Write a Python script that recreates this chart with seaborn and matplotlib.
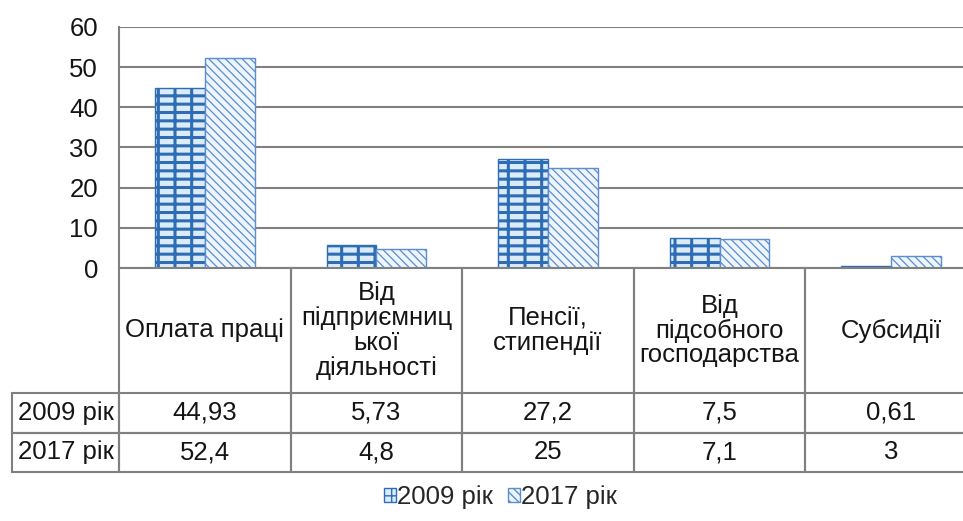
import matplotlib
matplotlib.use("Agg")
import matplotlib.pyplot as plt
from matplotlib.patches import Patch
import seaborn as sns
import pandas as pd

# Data
categories = ["Оплата праці", "Від підприємницької діяльності", "Пенсії, стипендії",
              "Від підсобного господарства", "Субсидії"]
header_labels = ["Оплата праці", "Від\nпідприємниц\nької\nдіяльності", "Пенсії,\nстипендії",
                 "Від\nпідсобного\nгосподарства", "Субсидії"]
years = ["2009 рік", "2017 рік"]
values_2009 = [44.93, 5.73, 27.2, 7.5, 0.61]
values_2017 = [52.4, 4.8, 25, 7.1, 3]
table_2009 = ["44,93", "5,73", "27,2", "7,5", "0,61"]
table_2017 = ["52,4", "4,8", "25", "7,1", "3"]
yticks = [0, 10, 20, 30, 40, 50, 60]

df = pd.DataFrame({
    "cat": categories * 2,
    "year": [years[0]] * 5 + [years[1]] * 5,
    "value": values_2009 + values_2017,
})

sns.set_style("white")
plt.rcParams["font.family"] = ["Liberation Sans", "DejaVu Sans"]
fs = 18.5
plt.rcParams["font.size"] = fs

grid_col = "#808080"
txt_col = "#151515"
face = {"2009 рік": "#dcebfa", "2017 рік": "#eef5fd"}
edge = {"2009 рік": "#2e6db4", "2017 рік": "#5a8ed0"}
hatch = {"2009 рік": "--|", "2017 рік": "\\\\\\\\"}
hatch_lw = {"2009 рік": 2.2, "2017 рік": 0.9}

fig = plt.figure(figsize=(9.63, 5.21), dpi=100)
ax = fig.add_axes([119 / 963, 1 - 268 / 521, 858 / 963, 241 / 521])

sns.barplot(data=df, x="cat", y="value", hue="year", order=categories,
            hue_order=years, width=0.58, ax=ax, legend=False, saturation=1)

for year, cont in zip(years, ax.containers):
    for bar in cont:
        bar.set_facecolor(face[year])
        bar.set_edgecolor(edge[year])
        bar.set_hatch(hatch[year])
        bar.set_linewidth(1.0)
        if hasattr(bar, "set_hatch_linewidth"):
            bar.set_hatch_linewidth(hatch_lw[year])

ax.set_xlim(-0.5, 4.5)
ax.set_ylim(0, 60)
ax.set_yticks(yticks)
ax.set_xticks([])
ax.set_xlabel("")
ax.set_ylabel("")
ax.yaxis.grid(True, color=grid_col, linewidth=1.5)
ax.set_axisbelow(True)
for s in ["top", "right"]:
    ax.spines[s].set_visible(False)
for s in ["left", "bottom"]:
    ax.spines[s].set_color(grid_col)
    ax.spines[s].set_linewidth(1.5)
ax.tick_params(axis="y", direction="out", length=8, width=1.5, color=grid_col,
               pad=7, labelsize=fs, labelcolor=txt_col)

# Data table below the axis
cell_text = [[""] + header_labels,
             [years[0]] + table_2009,
             [years[1]] + table_2017]
col_w = [107 / 858] + [0.2] * 5
tbl = ax.table(cellText=cell_text, colWidths=col_w, cellLoc="center",
               bbox=[-107 / 858, -204 / 241, 1 + 107 / 858, 204 / 241])
tbl.auto_set_font_size(False)
tbl.set_fontsize(fs)
row_h = [125, 39.5, 39.5]
for (r, c), cell in tbl.get_celld().items():
    cell.set_height(row_h[r])
    cell.set_edgecolor(grid_col)
    cell.set_linewidth(1.5)
    cell.set_facecolor("none")
    cell.get_text().set_color(txt_col)
    cell.get_text().set_linespacing(1.05)
    cell.PAD = 0.01
tbl[0, 0].visible_edges = ""
for c in range(1, 6):
    tbl[0, c].visible_edges = "LR"

handles = [Patch(facecolor=face[y], edgecolor=edge[y], hatch=hatch[y], label=y) for y in years]
fig.legend(handles=handles, loc="center", bbox_to_anchor=(0.52, 0.046), ncol=2,
           frameon=False, fontsize=fs, handlelength=0.45, handleheight=0.45,
           handletextpad=0.05, columnspacing=0.6)

fig.savefig("out.png", dpi=100)
